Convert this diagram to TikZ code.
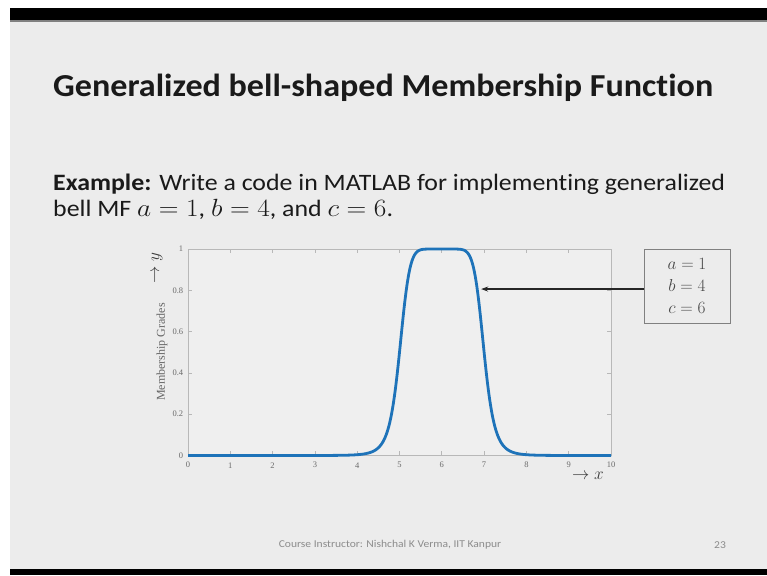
\documentclass[tikz,border=0pt]{standalone}
\usepackage{fontspec}
\setmainfont{Carlito}[Ligatures=NoCommon]
\newfontfamily\timesf{Liberation Serif}
\usetikzlibrary{arrows.meta}
\definecolor{slidebg}{HTML}{ECECEC}
\definecolor{plotbg}{HTML}{EFEFEF}
\definecolor{axisc}{HTML}{B8B8B8}
\definecolor{tickc}{HTML}{6A6A6A}
\definecolor{curvec}{RGB}{30,115,185}
\definecolor{txt}{HTML}{1A1A1A}
\tikzset{
  ticklab/.style={font=\timesf\fontsize{8.5}{10}\selectfont, text=tickc, inner sep=0pt},
  axisline/.style={draw=axisc, line width=0.7pt},
  bellcurve/.style={draw=curvec, line width=2.8pt, line join=round},
  bodytext/.style={anchor=base west, inner sep=0pt, xscale=1.10, font=\fontsize{23.5}{28}\selectfont, text=txt},
  parambox/.style={draw=gray, line width=0.8pt, fill=slidebg, minimum width=86pt, minimum height=74pt, align=center, font=\fontsize{17}{22}\selectfont, text=txt!80},
  foottext/.style={xscale=1.1, font=\fontsize{10.5}{12}\selectfont, text=black!45},
}
\begin{document}
\begin{tikzpicture}[x=1pt,y=-1pt]
\useasboundingbox (0,0) rectangle (767,575);
\fill[white] (0,0) rectangle (767,575);
\fill[slidebg] (10,20) rectangle (767,569);
\fill[black] (10,8) rectangle (767,20);
\fill[gray] (10,20) rectangle (767,22);
\fill[black] (10,569) rectangle (767,575);

\node[anchor=base west, inner sep=0pt, xscale=1.066, font=\fontsize{32}{38}\selectfont\bfseries, text=txt] (title) at (53,97) {Generalized bell-shaped Membership Function};

\node[bodytext] (line1) at (53,190) {\textbf{Example:} Write a code in MATLAB for implementing generalized};
\node[bodytext] (line2) at (53,216.7) {bell MF $a=1$, $b=4$, and $c=6$.};

\begin{scope}[shift={(188,455.5)}, x=42.3pt, y=206.5pt]
  \fill[plotbg] (0,0) rectangle (10,1);
  \foreach \i in {0,...,10} {
    \draw[axisline] (\i,0) -- ++(0,0.02);
    \draw[axisline] (\i,1) -- ++(0,-0.02);
    \node[ticklab] (xt\i) at (\i,-0.047) {\i};
  }
  \foreach \v/\l in {0/0,0.2/0.2,0.4/0.4,0.6/0.6,0.8/0.8,1/1} {
    \draw[axisline] (0,\v) -- ++(0.1,0);
    \draw[axisline] (10,\v) -- ++(-0.1,0);
    \node[ticklab, anchor=east] at (-0.11,\v) {\l};
  }
  \draw[axisline] (0,0) rectangle (10,1);
  \draw[bellcurve] (0,0) -- plot[domain=3.4:8.6, samples=300] (\x,{1/(1+((\x-6)*(\x-6)*(\x-6)*(\x-6))*((\x-6)*(\x-6)*(\x-6)*(\x-6)))}) -- (10,0);
  \coordinate (tip) at (6.93,0.806);
\end{scope}

\node[rotate=90, font=\timesf\fontsize{12}{14}\selectfont, text=black!60] (ylab) at (162,352) {Membership Grades};
\node[rotate=90, font=\fontsize{17}{20}\selectfont, text=txt!85] (yarrow) at (157,268) {$\rightarrow y$};
\node[font=\fontsize{17}{20}\selectfont, text=txt!85] (xarrow) at (588,476) {$\rightarrow x$};

\node[parambox] (params) at (687,286) {$a=1$\\$b=4$\\$c=6$};
\draw[-{Stealth[length=7pt,width=5pt]}, line width=1.8pt, black!85] (params.west |- tip) -- (tip);

\node[foottext] (footer) at (390,545) {Course Instructor: Nishchal K Verma, IIT Kanpur};
\node[foottext] (pagenum) at (720,545) {23};
\end{tikzpicture}
\end{document}
